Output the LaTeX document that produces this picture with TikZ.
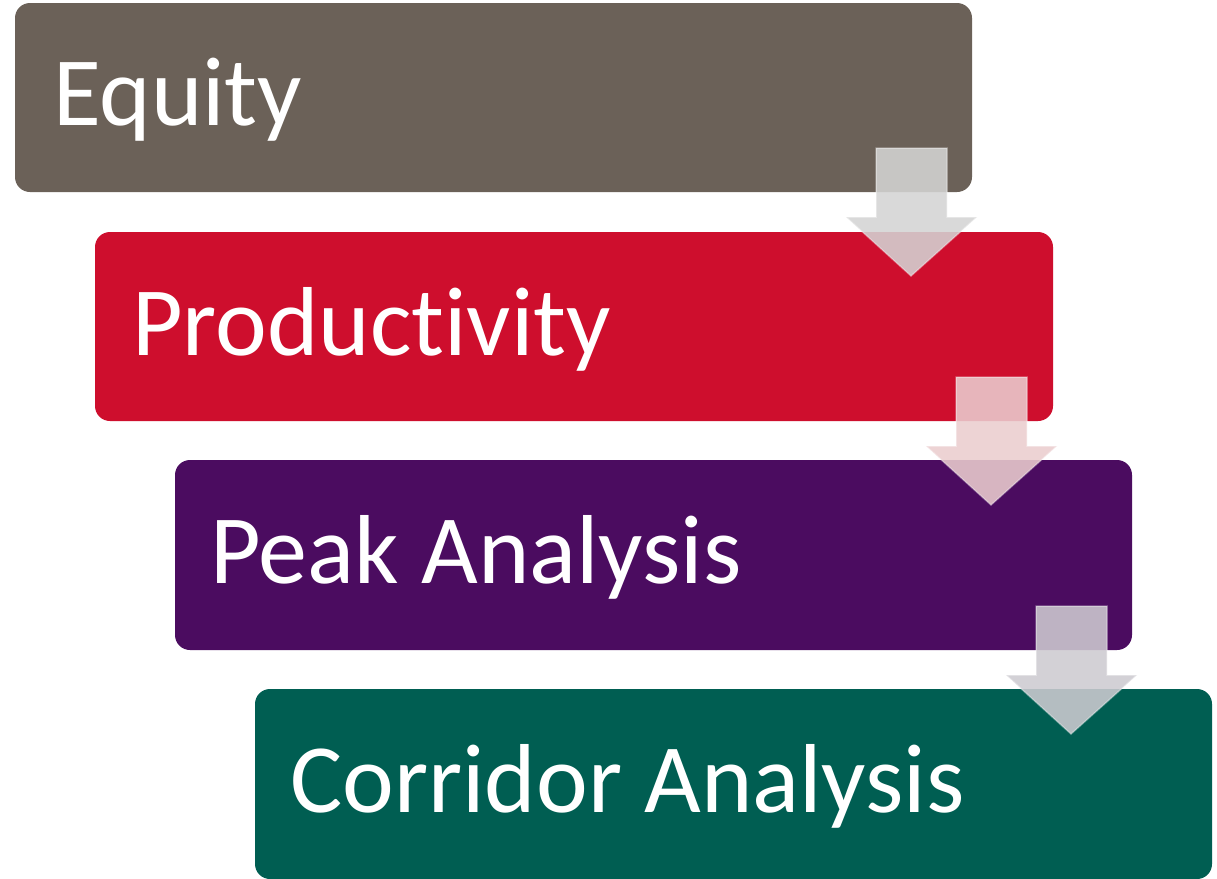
\documentclass[tikz,border=0pt]{standalone}
\usepackage{fontspec}
\setmainfont[RawFeature=-liga]{Carlito}
\definecolor{cEq}{RGB}{107,97,88}
\definecolor{cPr}{RGB}{206,14,45}
\definecolor{cPk}{RGB}{75,12,96}
\definecolor{cCo}{RGB}{0,94,82}
\definecolor{aOne}{RGB}{212,212,212}
\definecolor{aTwo}{RGB}{235,205,207}
\definecolor{aThree}{RGB}{206,203,209}
\tikzset{
  stagebox/.style={fill=#1, rounded corners=15pt, draw=none},
  stagelabel/.style={text=white, anchor=base west, inner sep=0pt, font=\fontsize{98}{100}\selectfont},
  blockarrow/.style={fill=#1, fill opacity=0.88, draw=white, draw opacity=0.35, line width=1.5pt, line join=miter}
}
\begin{document}
\begin{tikzpicture}[x=1pt,y=-1pt]
\useasboundingbox (0,0) rectangle (1217,878);
\fill[white] (0,0) rectangle (1217,878);
% boxes
\path[stagebox=cEq] (15,3) rectangle (972,192);
\path[stagebox=cPr] (95,232) rectangle (1053,421);
\path[stagebox=cPk] (175,460) rectangle (1132,650);
\path[stagebox=cCo] (255,689) rectangle (1212,879);
\node[stagelabel] (eq) at (53,125) {Equity};
\node[stagelabel] (pr) at (132,355) {Productivity};
\node[stagelabel] (pk) at (210,583) {Peak Analysis};
\node[stagelabel] (co) at (290,812) {Corridor Analysis};
% arrows
\path[blockarrow=aOne] (876,148) -- (947,148) -- (947,217) -- (977,217) -- (911,276) -- (846,217) -- (876,217) -- cycle;
\path[blockarrow=aTwo] (956,377) -- (1027,377) -- (1027,446) -- (1057,446) -- (991,505) -- (926,446) -- (956,446) -- cycle;
\path[blockarrow=aThree] (1036,606) -- (1107,606) -- (1107,675) -- (1137,675) -- (1071,734) -- (1006,675) -- (1036,675) -- cycle;
\end{tikzpicture}
\end{document}
